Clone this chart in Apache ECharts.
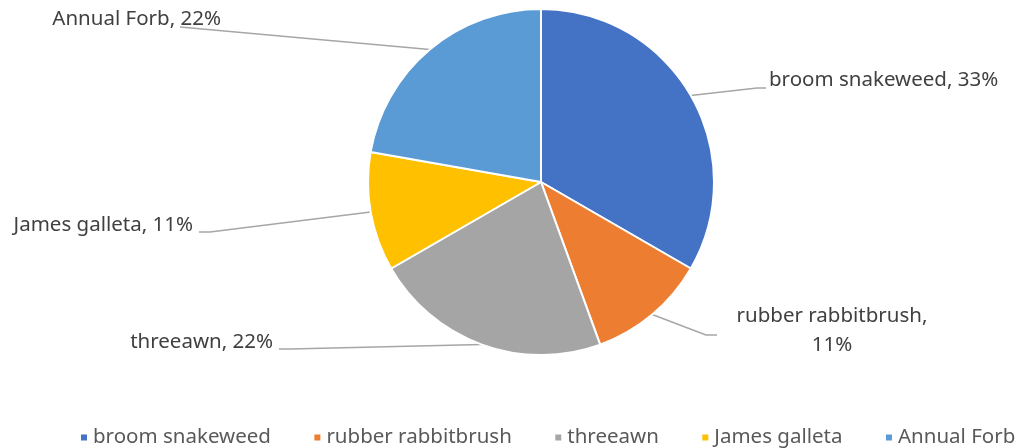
<!DOCTYPE html>
<html><head><meta charset="utf-8">
<script src="https://cdn.jsdelivr.net/npm/echarts@6/dist/echarts.min.js"></script>
<style>html,body{margin:0;padding:0;background:#fff}#c{width:1023px;height:448px}</style>
</head><body><div id="c"></div>
<script>
const categories = ['broom snakeweed', 'rubber rabbitbrush', 'threeawn', 'James galleta', 'Annual Forb'];
const values = [3, 1, 2, 1, 2];
const colors = ['#4472C4', '#ED7D31', '#A5A5A5', '#FFC000', '#5B9BD5'];

// label placement (text anchor) and leader-line knee points, per slice
const labelPos = [
  {x: 769, y: 80, align: 'left', knee: [[757, 88], [766, 88]]},
  {x: 832, y: 331, align: 'center', knee: [[706, 335], [717, 335]]},
  {x: 273, y: 342, align: 'right', knee: [[290, 349], [279, 349]]},
  {x: 193, y: 225, align: 'right', knee: [[210, 232], [199, 232]]},
  {x: 221, y: 19, align: 'right', knee: [[180, 27]]}
];

const chart = echarts.init(document.getElementById('c'), null, {renderer: 'canvas'});
const font = '"Noto Sans", sans-serif';
chart.setOption({
  animation: false,
  color: colors,
  legend: {
    bottom: -5,
    left: 74,
    icon: 'rect',
    itemWidth: 8,
    itemHeight: 8,
    itemGap: 41.5,
    textStyle: {fontSize: 20.5, color: '#595959', fontFamily: font},
    data: categories
  },
  series: [{
    type: 'pie',
    center: [541, 182],
    radius: [0, 173],
    startAngle: 90,
    clockwise: true,
    itemStyle: {borderColor: '#fff', borderWidth: 2},
    label: {
      show: true,
      fontSize: 20.5,
      color: '#404040',
      fontFamily: font,
      lineHeight: 29,
      formatter: p => (p.dataIndex === 1 ? p.name + ',\n' : p.name + ', ') + Math.round(p.percent) + '%'
    },
    labelLine: {show: true, lineStyle: {color: '#A6A6A6', width: 1.5}},
    labelLayout: function (params) {
      const lp = labelPos[params.dataIndex];
      const start = params.labelLinePoints ? params.labelLinePoints[0] : null;
      const res = {x: lp.x, y: lp.y, align: lp.align, verticalAlign: 'middle'};
      if (start) res.labelLinePoints = [start].concat(lp.knee);
      return res;
    },
    data: categories.map((c, i) => ({name: c, value: values[i]}))
  }]
});
</script></body></html>
